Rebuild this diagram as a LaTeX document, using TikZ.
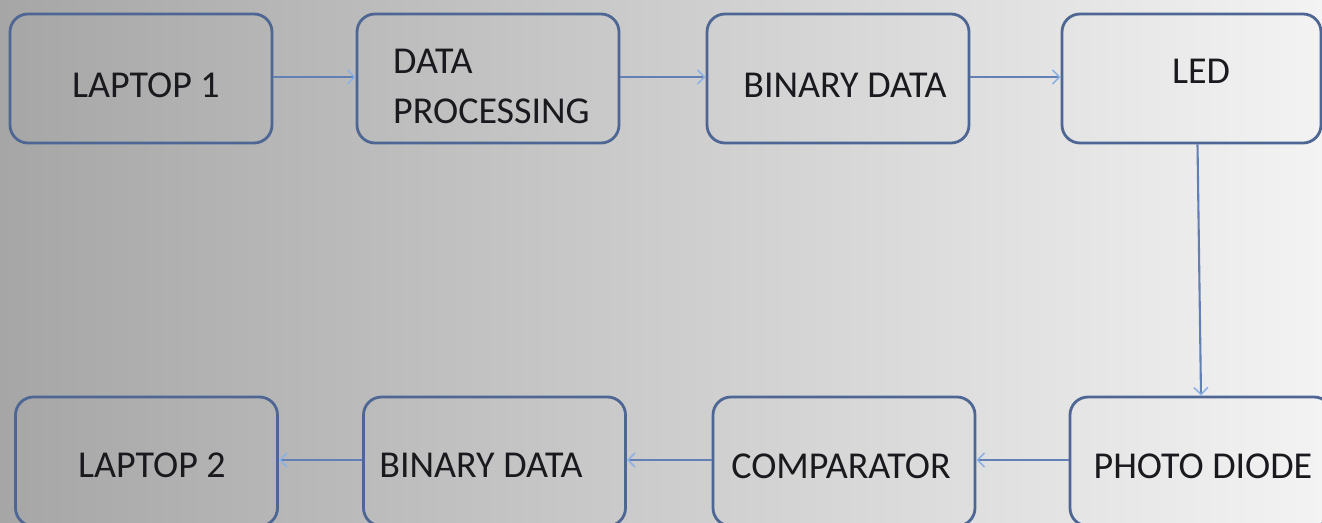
\documentclass[tikz,border=0pt]{standalone}
\usepackage{fontspec}
\setmainfont{Carlito}
\usetikzlibrary{arrows.meta}
\definecolor{bgL}{RGB}{166,166,166}
\definecolor{bgR}{RGB}{243,243,243}
\definecolor{boxline}{RGB}{78,102,148}
\definecolor{arrline}{RGB}{98,128,180}
\definecolor{arrtip}{RGB}{140,178,228}
\definecolor{txtc}{RGB}{25,25,30}
\tikzset{
  stepbox/.style={draw=boxline, line width=2.8pt, rounded corners=18pt,
    minimum width=262pt, minimum height=129pt, inner sep=0pt},
  lbl/.style={text=txtc, font=\fontsize{38}{50}\selectfont, inner sep=0pt, anchor=base},
  flow/.style={draw=arrline, line width=2.1pt,
    -{Straight Barb[length=7pt,width=14pt,line width=1.6pt,color=arrtip]}}
}
\begin{document}
\begin{tikzpicture}[x=1pt,y=-1pt]
\useasboundingbox (0,0) rectangle (1322,522);
\clip (0,0) rectangle (1322,522);
\shade[left color=bgL, right color=bgR] (0,0) rectangle (1322,522);
% top row
\node[stepbox] (l1)  at (141,78.5)    {};
\node[stepbox] (dp)  at (488,78.5)    {};
\node[stepbox] (bd1) at (838,78.5)    {};
\node[stepbox, minimum width=259pt] (led) at (1191.5,78.5) {};
% bottom row
\node[stepbox] (l2)  at (146.5,461.5) {};
\node[stepbox] (bd2) at (494.5,461.5) {};
\node[stepbox] (cmp) at (844,461.5)   {};
\node[stepbox] (pd)  at (1201,461.5)  {};
% texts
\node[lbl] (t1) at (146,97) {LAPTOP 1};
\node[lbl, anchor=base west] (t2a) at (393,73) {DATA};
\node[lbl, anchor=base west] (t2b) at (393,123) {PROCESSING};
\node[lbl] (t3) at (845,97) {BINARY DATA};
\node[lbl] (t4) at (1201,83) {LED};
\node[lbl] (t5) at (152,477) {LAPTOP 2};
\node[lbl] (t6) at (481,477) {BINARY DATA};
\node[lbl] (t7) at (841,478) {COMPARATOR};
\node[lbl] (t8) at (1203,478) {PHOTO DIODE};
% connectors
\draw[flow] ([yshift=1.5pt]l1.east) -- ([yshift=1.5pt]dp.west);
\draw[flow] ([yshift=1.5pt]dp.east) -- ([yshift=1.5pt]bd1.west);
\draw[flow] ([yshift=1.5pt]bd1.east) -- ([yshift=1.5pt]led.west);
\draw[flow] ([xshift=6pt]led.south) -- (pd.north);
\draw[flow] ([yshift=1.5pt]pd.west) -- ([yshift=1.5pt]cmp.east);
\draw[flow] ([yshift=1.5pt]cmp.west) -- ([yshift=1.5pt]bd2.east);
\draw[flow] ([yshift=1.5pt]bd2.west) -- ([yshift=1.5pt]l2.east);
\end{tikzpicture}
\end{document}
